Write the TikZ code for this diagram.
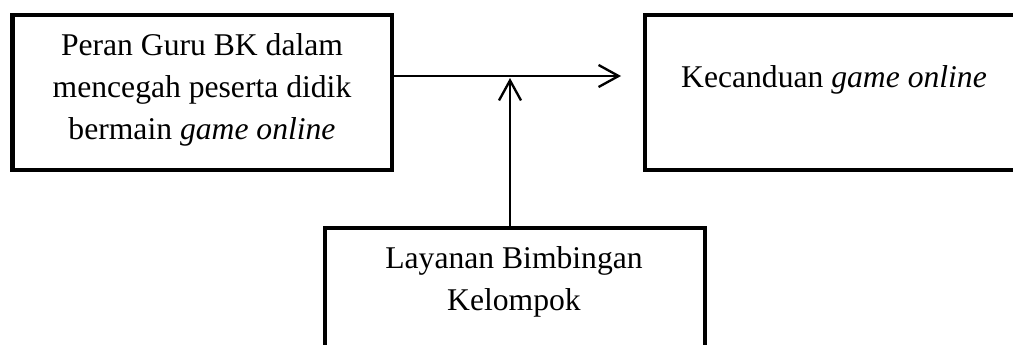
\documentclass[tikz,border=0pt]{standalone}
\usepackage{fontspec}
\setmainfont{Liberation Serif}
\usetikzlibrary{arrows.meta,positioning}
\tikzset{
  box/.style={draw,line width=1.9pt,inner sep=0pt},
  lbl/.style={align=center,font=\fontsize{13.5}{17.9}\selectfont},
  conn/.style={line width=1pt,-{Straight Barb[length=0.3cm,width=0.33cm]}}
}
\begin{document}
\begin{tikzpicture}
    \useasboundingbox (0,0) rectangle (15.195,-5.16);
    %% boxes
    \node[box,minimum width=5.6925cm,minimum height=2.325cm] (peran) at (3.034,-1.3875) {};
    \node[box,minimum width=5.67cm,minimum height=2.325cm] (kecanduan) at (12.51,-1.3875) {};
    \node[box,minimum width=5.7cm,minimum height=2.28cm] (layanan) at (7.725,-4.56) {};
    %% texts
    \node[lbl,anchor=base] (peran-txt) at (3.03,-2.085) {Peran Guru BK dalam\\mencegah peserta didik\\bermain \textit{game online}};
    \node[lbl,anchor=base] (kecanduan-txt) at (12.51,-1.305) {Kecanduan \textit{game online}};
    \node[lbl,anchor=base] (layanan-txt) at (7.71,-4.65) {Layanan Bimbingan\\Kelompok};
    %% arrows
    \coordinate (tip) at (9.315,-1.14);
    \coordinate (meet) at (7.65,-1.17);
    \draw[conn] (peran.east |- tip) -- (tip);
    \draw[conn] (layanan.north -| meet) -- (meet);
\end{tikzpicture}
\end{document}
